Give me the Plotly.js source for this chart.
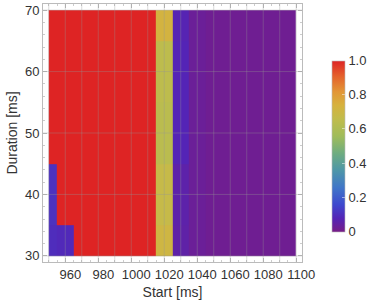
<!DOCTYPE html>
<html>
<head>
<meta charset="utf-8">
<script src="https://cdn.plot.ly/plotly-3.0.1.min.js"></script>
<style>html,body{margin:0;padding:0;background:#fff;}#chart{width:374px;height:302px;}</style>
</head>
<body>
<div id="chart"></div>
<script>
// Data
var startMs = [950, 960, 970, 980, 990, 1000, 1010, 1020, 1030, 1040, 1050, 1060, 1070, 1080, 1090, 1100];
var durationMs = [30, 40, 50, 60, 70];
var row30 = [0.10, 0.09, 1, 1, 1, 1, 1, 0.71, 0.055, 0.03, 0.02, 0.02, 0.02, 0.02, 0.02, 0.02];
var row40 = [0.11, 1, 1, 1, 1, 1, 1, 0.68, 0.06, 0.03, 0.02, 0.02, 0.02, 0.02, 0.02, 0.02];
var row50 = [1, 1, 1, 1, 1, 1, 1, 0.64, 0.08, 0.03, 0.02, 0.02, 0.02, 0.02, 0.02, 0.02];
var row60 = [1, 1, 1, 1, 1, 1, 1, 0.65, 0.08, 0.03, 0.02, 0.02, 0.02, 0.02, 0.02, 0.02];
var row70 = [1, 1, 1, 1, 1, 1, 1, 0.73, 0.075, 0.03, 0.02, 0.02, 0.02, 0.02, 0.02, 0.02];
var xTickVals = [960, 980, 1000, 1020, 1040, 1060, 1080, 1100];
var yTickVals = [30, 40, 50, 60, 70];
var cbTickVals = [0, 0.2, 0.4, 0.6, 0.8, 1.0];
var cbTickText = ['0', '0.2', '0.4', '0.6', '0.8', '1.0'];

// Cell edges (half cells at the borders, as in the original)
function edges(c) {
  var e = [c[0]];
  for (var i = 0; i < c.length - 1; i++) e.push((c[i] + c[i + 1]) / 2);
  e.push(c[c.length - 1]);
  return e;
}
var xE = edges(startMs), yE = edges(durationMs);

var rainbow = [
  [0.00, 'rgb(120,28,134)'],
  [0.08, 'rgb(84,36,182)'],
  [0.16, 'rgb(62,72,206)'],
  [0.26, 'rgb(64,118,200)'],
  [0.36, 'rgb(78,150,168)'],
  [0.46, 'rgb(110,172,128)'],
  [0.56, 'rgb(160,188,90)'],
  [0.66, 'rgb(192,188,76)'],
  [0.74, 'rgb(214,178,62)'],
  [0.82, 'rgb(226,150,54)'],
  [0.91, 'rgb(228,98,44)'],
  [1.00, 'rgb(222,36,36)']
];

var trace = {
  type: 'heatmap',
  x: xE,
  y: yE,
  z: [row30, row40, row50, row60, row70],
  zmin: 0, zmax: 1,
  colorscale: rainbow,
  hoverinfo: 'none',
  colorbar: {
    x: 1.116, xanchor: 'left', xpad: 0,
    y: 0.4495, yanchor: 'middle', ypad: 0,
    thickness: 13, thicknessmode: 'pixels',
    len: 171, lenmode: 'pixels',
    outlinewidth: 0.6, outlinecolor: '#bbb',
    tickvals: cbTickVals, ticktext: cbTickText,
    ticks: 'inside', ticklen: 3, tickcolor: 'rgba(255,255,255,0.5)',
    tickfont: {family: 'Liberation Sans, Arial, sans-serif', size: 13, color: '#333'}
  }
};

var shapes = [];
startMs.forEach(function (v) {
  shapes.push({type: 'line', xref: 'x', yref: 'paper', x0: v, x1: v, y0: 0, y1: 1, layer: 'above',
    line: {color: 'rgba(150,150,150,0.35)', width: 1}});
});
durationMs.forEach(function (v) {
  shapes.push({type: 'line', xref: 'paper', yref: 'y', x0: 0, x1: 1, y0: v, y1: v, layer: 'above',
    line: {color: 'rgba(150,150,150,0.35)', width: 1}});
});

var font = {family: 'Liberation Sans, Arial, sans-serif', size: 13, color: '#333'};
var layout = {
  width: 374, height: 302,
  margin: {l: 43, r: 72, t: 4, b: 40},
  paper_bgcolor: '#fff', plot_bgcolor: '#fff',
  font: font,
  shapes: shapes,
  xaxis: {
    range: [946.5, 1103.5],
    tickvals: xTickVals,
    ticklabelshift: 5,
    ticks: 'inside', ticklen: 4, tickcolor: '#bbb', tickwidth: 1,
    minor: {dtick: 5, tick0: 950, ticks: 'inside', ticklen: 2, tickcolor: '#ccc', showgrid: false},
    showgrid: false, zeroline: false,
    showline: true, linecolor: '#bbb', linewidth: 1, mirror: 'allticks',
    tickfont: font,
    title: {text: 'Start [ms]', font: {family: 'Liberation Sans, Arial, sans-serif', size: 14, color: '#333'}, standoff: 6}
  },
  yaxis: {
    range: [29, 71],
    tickvals: yTickVals,
    ticks: 'inside', ticklen: 4, tickcolor: '#bbb', tickwidth: 1,
    minor: {dtick: 2, tick0: 30, ticks: 'inside', ticklen: 2, tickcolor: '#ccc', showgrid: false},
    showgrid: false, zeroline: false,
    showline: true, linecolor: '#bbb', linewidth: 1, mirror: 'allticks',
    tickfont: font,
    title: {text: 'Duration [ms]', font: {family: 'Liberation Sans, Arial, sans-serif', size: 14, color: '#333'}, standoff: 4}
  }
};

Plotly.newPlot('chart', [trace], layout, {displayModeBar: false, staticPlot: true});
</script>
</body>
</html>
